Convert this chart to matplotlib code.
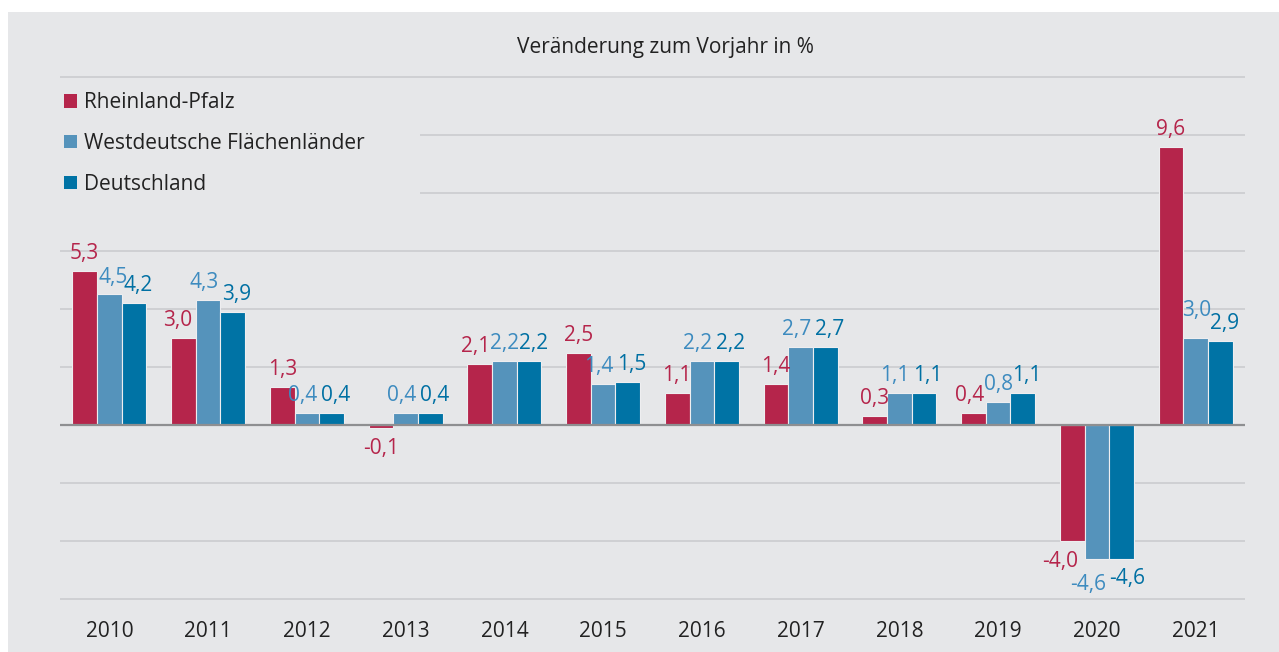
import matplotlib
matplotlib.use("Agg")
import matplotlib.pyplot as plt
from matplotlib.patches import Patch, Rectangle
import numpy as np

plt.rcParams["font.family"] = ["Open Sans", "DejaVu Sans"]

years = ["2010", "2011", "2012", "2013", "2014", "2015",
         "2016", "2017", "2018", "2019", "2020", "2021"]
series_names = ["Rheinland-Pfalz", "Westdeutsche Flächenländer", "Deutschland"]
rlp = [5.3, 3.0, 1.3, -0.1, 2.1, 2.5, 1.1, 1.4, 0.3, 0.4, -4.0, 9.6]
west = [4.5, 4.3, 0.4, 0.4, 2.2, 1.4, 2.2, 2.7, 1.1, 0.8, -4.6, 3.0]
de = [4.2, 3.9, 0.4, 0.4, 2.2, 1.5, 2.2, 2.7, 1.1, 1.1, -4.6, 2.9]

bar_colors = ["#b5254b", "#5593bb", "#0073a5"]
label_colors = ["#b5254b", "#3d8bbf", "#0070a3"]
bg = "#e6e7e9"
fs = 15

# hand placed labels (offsets in points), as in the original
nudges = {(0, 1): (3, 0), (0, 2): (3, 0), (1, 0): (-4, 0),
          (10, 0): (-9, 0), (10, 1): (-6, -4), (10, 2): (4, 0),
          (11, 1): (1, 7), (11, 2): (3, 0)}

W, H = 1279, 652
fig = plt.figure(figsize=(W / 100, H / 100), dpi=100)
fig.patch.set_facecolor("white")
fig.add_artist(Rectangle((8 / W, 0), 1 - 8 / W, (H - 12) / H,
                         transform=fig.transFigure, facecolor=bg,
                         edgecolor="none", zorder=-10))

ax = fig.add_axes([60 / W, (H - 600) / H, (1245 - 60) / W, (600 - 76) / H])
ax.set_facecolor(bg)
ax.patch.set_alpha(0)

x = np.arange(len(years))
width = 0.25
data = [rlp, west, de]
for i, vals in enumerate(data):
    pos = x + (i - 1) * width
    ax.bar(pos, vals, width, color=bar_colors[i], edgecolor="#eeeef0",
           linewidth=0.8, zorder=3)

# push neighbouring labels apart when they sit at about the same height
for j in range(len(years)):
    vals = [d[j] for d in data]
    shift = [0, 0, 0]
    for k in range(2):
        a, b = vals[k], vals[k + 1]
        if (a >= 0) == (b >= 0) and abs(a - b) < 0.6:
            shift[k] -= 3
            shift[k + 1] += 3
    for i, v in enumerate(vals):
        dx, dy = nudges.get((j, i), (shift[i], 0))
        off = 5 if v >= 0 else -7
        ax.annotate(f"{v:.1f}".replace(".", ","), (x[j] + (i - 1) * width, v),
                    xytext=(dx, off + dy), textcoords="offset points",
                    ha="center", va="bottom" if v >= 0 else "top",
                    color=label_colors[i], fontsize=fs, zorder=5)

ax.set_xlim(-0.5, len(years) - 0.5)
ax.set_ylim(-6.03, 12.03)
ax.set_yticks(np.arange(-6, 13, 2))
ax.yaxis.grid(True, color="#c9cacd", linewidth=1.1, zorder=0)
ax.axhline(0, color="#8e8f91", linewidth=1.6, zorder=4)
ax.set_yticklabels([])
ax.tick_params(axis="y", length=0)
ax.set_xticks(x)
ax.set_xticklabels(years, fontsize=fs, color="#222222")
ax.tick_params(axis="x", length=0, pad=15)
for s in ax.spines.values():
    s.set_visible(False)

# legend box hides gridlines behind it
ax.add_patch(Rectangle((0, 0.70), 360 / 1185, 0.255, transform=ax.transAxes,
                       facecolor=bg, edgecolor="none", zorder=2))
handles = [Patch(facecolor=c, edgecolor="none") for c in bar_colors]
ax.legend(handles, series_names, loc="upper left", bbox_to_anchor=(-0.004, 0.985),
          frameon=False, fontsize=fs, handlelength=0.62, handleheight=0.62,
          handletextpad=0.35, labelspacing=0.95, borderaxespad=0,
          labelcolor="#222222")

fig.text(665 / W, (H - 47) / H, "Veränderung zum Vorjahr in %", ha="center",
         va="center", fontsize=fs, color="#222222")

fig.savefig("out.png", dpi=100, facecolor="white")
